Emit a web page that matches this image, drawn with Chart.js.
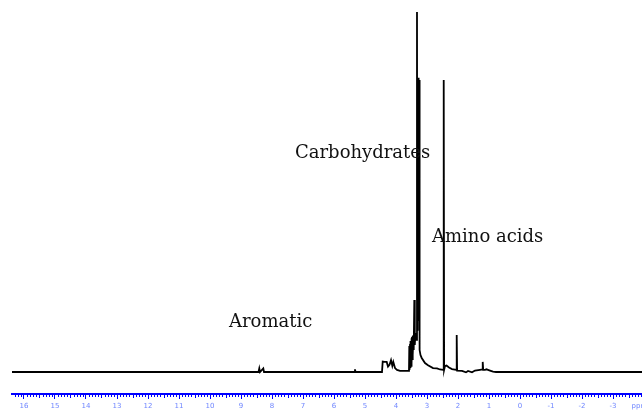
<!DOCTYPE html>
<html>
<head>
<meta charset="utf-8">
<script src="https://cdn.jsdelivr.net/npm/chart.js@4/dist/chart.umd.min.js"></script>
<style>
  html, body { margin: 0; padding: 0; background: #fff; }
  #wrap { width: 642px; height: 410px; position: relative; }
</style>
</head>
<body>
<div id="wrap"><canvas id="chart_nmr"></canvas></div>
<script>
// chemical shift (ppm) and relative intensity
var shiftPpm = [
  16.387, 8.435, 8.410, 8.387, 8.281, 8.258, 5.339, 5.323, 5.306,
  4.452, 4.429, 4.371, 4.300, 4.258, 4.210, 4.161, 4.119, 4.087, 4.032, 3.968, 3.871, 3.597,
  3.581, 3.571, 3.561, 3.548, 3.539, 3.526, 3.516, 3.503, 3.494, 3.484, 3.471, 3.461, 3.452, 3.439, 3.429,
  3.410, 3.394, 3.377, 3.355, 3.323, 3.313, 3.303, 3.290, 3.277, 3.265, 3.252, 3.239,
  3.210, 3.171, 3.065, 2.968, 2.806, 2.677, 2.581, 2.474, 2.461, 2.448, 2.419, 2.371, 2.290, 2.194,
  2.055, 2.042, 2.029, 1.871, 1.742, 1.677, 1.548, 1.452, 1.290, 1.216, 1.203, 1.187,
  1.129, 1.081, 1.032, 0.968, 0.871, 0.774, -3.935
];
var intensity = [
  0, 0, 1.0, 0, 1.0, 0, 0, 0.75, 0,
  0, 2.9, 2.8, 2.8, 1.5, 2.0, 3.3, 1.7, 2.8, 1.1, 0.6, 0.3, 0.3,
  0.6, 7.2, 0.6, 7.8, 1.1, 8.6, 1.7, 9.4, 2.2, 9.7, 3.3, 10.0, 4.7, 10.3, 6.1,
  20.0, 7.5, 10.8, 8.9, 100, 11.7, 81.7, 14.4, 81.7, 14.4, 81.1, 6.1,
  4.7, 3.9, 2.5, 1.9, 1.1, 1.0, 0.7, 0.6, 81.1, 0.6, 1.7, 1.8, 1.25, 0.8,
  0.6, 10.3, 0.4, 0.3, -0.1, 0.3, -0.1, 0.4, 0.6, 0.7, 2.8, 0.6,
  0.6, 0.75, 0.6, 0.4, 0.1, 0, 0
];

// region labels, anchored at (ppm, intensity) of their left baseline
var regionText = ['Carbohydrates', 'Amino acids', 'Aromatic'];
var regionPpm = [7.258, 2.839, 9.387];
var regionLevel = [59.4, 36.1, 12.5];

var majorTicks = [16, 15, 14, 13, 12, 11, 10, 9, 8, 7, 6, 5, 4, 3, 2, 1, 0, -1, -2, -3];
var unitTickPpm = -3.85;

var axisBlue = '#0000ff';

var regionLabels = {
    id: 'regionLabels',
    afterDatasetsDraw: function(chart) {
        var ctx = chart.ctx;
        var xs = chart.scales.x, ys = chart.scales.y;
        ctx.save();
        ctx.font = '18px "DejaVu Serif"';
        ctx.fillStyle = '#111';
        ctx.textAlign = 'left';
        ctx.textBaseline = 'alphabetic';
        regionText.forEach(function(t, i) {
            ctx.fillText(t, xs.getPixelForValue(regionPpm[i]), ys.getPixelForValue(regionLevel[i]));
        });
        ctx.restore();
    }
};

// small ticks every 0.1 ppm under the axis line
var minorTicks = {
    id: 'minorTicks',
    afterDraw: function(chart) {
        var ctx = chart.ctx;
        var xs = chart.scales.x;
        ctx.save();
        ctx.strokeStyle = axisBlue;
        ctx.lineWidth = 1;
        ctx.beginPath();
        for (var k = -39; k <= 163; k++) {
            if (k % 10 === 0) continue;
            var px = Math.round(xs.getPixelForValue(k / 10)) + 0.5;
            ctx.moveTo(px, xs.top);
            ctx.lineTo(px, xs.top + (k % 5 === 0 ? 4 : 3));
        }
        ctx.stroke();
        ctx.restore();
    }
};

var chartNmr = new Chart(document.getElementById('chart_nmr'), {
    type: 'line',
    data: {
        datasets: [{
            data: shiftPpm.map(function(p, i) { return { x: p, y: intensity[i] }; }),
            borderColor: '#000',
            borderWidth: 1.8,
            pointRadius: 0,
            tension: 0,
            fill: false
        }]
    },
    options: {
        responsive: true,
        maintainAspectRatio: false,
        animation: false,
        layout: { padding: { left: 12, right: 0, top: 0, bottom: 0 } },
        scales: {
            x: {
                type: 'linear',
                reverse: true,
                min: -3.935,
                max: 16.387,
                border: { display: true, color: axisBlue, width: 2 },
                grid: {
                    drawOnChartArea: false,
                    drawTicks: true,
                    tickLength: 5,
                    tickWidth: 1,
                    tickColor: function(c) { return c.tick && c.tick.value === unitTickPpm ? 'rgba(0,0,0,0)' : axisBlue; }
                },
                afterBuildTicks: function(scale) {
                    scale.ticks = majorTicks.map(function(v) { return { value: v }; }).concat([{ value: unitTickPpm }]);
                },
                afterFit: function(scale) {
                    scale.height = 16;
                    scale.paddingLeft = 0;
                    scale.paddingRight = 0;
                },
                ticks: {
                    autoSkip: false,
                    maxRotation: 0,
                    minRotation: 0,
                    padding: 3,
                    color: '#6f86ff',
                    font: { family: 'DejaVu Sans', size: 7 },
                    callback: function(value) { return value === unitTickPpm ? 'ppm' : String(value); }
                }
            },
            y: {
                display: false,
                min: -6.11,
                max: 103.33
            }
        },
        plugins: {
            legend: { display: false },
            tooltip: { enabled: false }
        }
    },
    plugins: [regionLabels, minorTicks]
});
</script>
</body>
</html>
